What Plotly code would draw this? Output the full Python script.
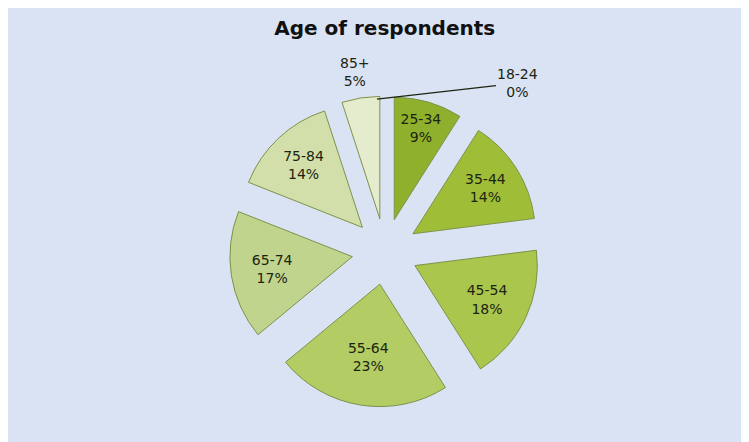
import plotly.graph_objects as go

age_groups = ["18-24", "25-34", "35-44", "45-54", "55-64", "65-74", "75-84", "85+"]
shares = [0, 9, 14, 18, 23, 17, 14, 5]
slice_colors = ["#7f9f24", "#8fb02c", "#a0bd38", "#aac64c", "#b3cc64",
                "#c0d48e", "#d2dfaa", "#e5ebcd"]
# 18-24 (empty) and 85+ are labelled outside the pie with annotations below,
# since plotly's own outside text shrinks the whole pie
text_pos = ["none", "inside", "inside", "inside", "inside", "inside", "inside", "none"]

fig = go.Figure(
    go.Pie(
        labels=age_groups,
        values=shares,
        sort=False,
        direction="clockwise",
        rotation=0,
        pull=[0.27] * len(shares),
        marker=dict(
            colors=slice_colors,
            line=dict(color="#7d934a", width=[0] + [1] * (len(shares) - 1)),
        ),
        texttemplate="%{label}<br>%{value}%",
        textposition=text_pos,
        insidetextorientation="horizontal",
        textfont=dict(family="DejaVu Sans", size=14, color="#1c2410"),
        showlegend=False,
        hoverinfo="label+percent",
    )
)

label_font = dict(family="DejaVu Sans", size=14, color="#1c2410")

fig.add_annotation(
    xref="paper", yref="paper",
    x=0.488, y=0.99,
    ax=141, ay=-16,
    text=f"{age_groups[0]}<br>{shares[0]}%",
    showarrow=True, arrowhead=0, arrowwidth=1.2, arrowcolor="#1c2410",
    font=label_font,
)
fig.add_annotation(
    xref="paper", yref="paper",
    x=0.455, y=1.077, yanchor="middle",
    text=f"{age_groups[-1]}<br>{shares[-1]}%",
    showarrow=False,
    font=label_font,
)

fig.update_layout(
    width=749,
    height=442,
    title=dict(
        text="<b>Age of respondents</b>",
        x=0.503, xanchor="center",
        y=0.955, yanchor="middle",
        font=dict(family="DejaVu Sans", size=20, color="#111111"),
    ),
    paper_bgcolor="#dae3f3",
    plot_bgcolor="#dae3f3",
    margin=dict(l=41, r=36, t=88, b=43),
)

fig.write_html("out.html")
